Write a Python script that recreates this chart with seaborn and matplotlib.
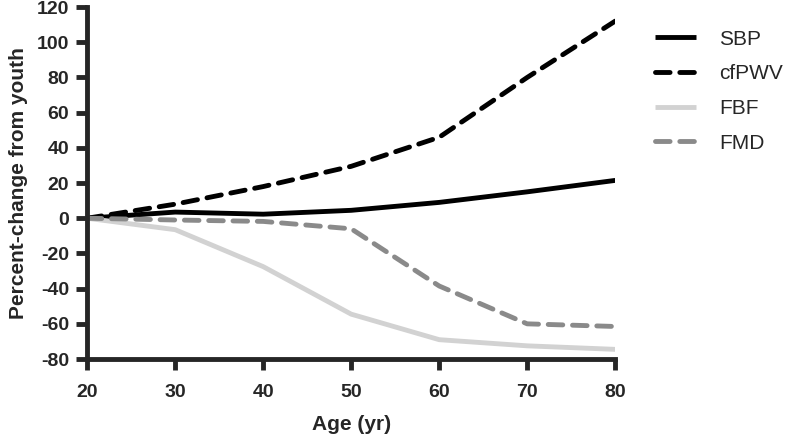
import pandas as pd
import matplotlib
matplotlib.use('Agg')
import matplotlib.pyplot as plt
import seaborn as sns

# Data
age = [20, 30, 40, 50, 60, 70, 80]
sbp = [0, 3.5, 2.3, 4.5, 9, 15, 21.5]
cfpwv = [0, 8, 18, 29.5, 46, 80, 112]
fbf = [0, -6.5, -27.5, -54.5, -69, -72.5, -74.5]
fmd = [0, -1, -1.8, -6, -38.5, -60, -61.5]

series_names = ['SBP', 'cfPWV', 'FBF', 'FMD']
legend_labels = ['SBP', 'cfPWV', 'FBF', 'FMD']
x_ticks = [20, 30, 40, 50, 60, 70, 80]
x_tick_labels = ['20', '30', '40', '50', '60', '70', '80']
y_ticks = [-80, -60, -40, -20, 0, 20, 40, 60, 80, 100, 120]
y_tick_labels = ['-80', '-60', '-40', '-20', '0', '20', '40', '60', '80', '100', '120']

df = pd.DataFrame({
    'Age': age * 4,
    'Change': sbp + cfpwv + fbf + fmd,
    'Series': [s for s in series_names for _ in age],
})

palette = {'SBP': 'black', 'cfPWV': 'black', 'FBF': '#d2d2d2', 'FMD': '#8a8a8a'}
dashes = {'SBP': '', 'cfPWV': (3.0, 2.0), 'FBF': '', 'FMD': (3.0, 2.0)}

sns.set_style('ticks')
plt.rcParams['font.family'] = ['Liberation Sans', 'DejaVu Sans']

fig = plt.figure(figsize=(8, 4.4), dpi=100)
ax = fig.add_axes([0.109, 0.184, 0.66, 0.80])

sns.lineplot(data=df, x='Age', y='Change', hue='Series', style='Series',
             hue_order=series_names, style_order=series_names,
             palette=palette, dashes=dashes, linewidth=3.5, ax=ax,
             legend='full')

for line in ax.get_lines():
    line.set_dash_capstyle('round')
    line.set_solid_capstyle('butt')

ax.set_xlim(20, 80)
ax.set_ylim(-80, 120)
ax.set_xticks(x_ticks, labels=x_tick_labels, fontsize=14, fontweight='bold')
ax.set_yticks(y_ticks, labels=y_tick_labels, fontsize=14, fontweight='bold')
ax.set_xlabel('Age (yr)', fontsize=15, fontweight='bold', labelpad=10)
ax.set_ylabel('Percent-change from youth', fontsize=15, fontweight='bold', labelpad=6)
ax.tick_params(axis='x', width=3.5, length=8, direction='out', pad=10)
ax.tick_params(axis='y', width=3.5, length=8, direction='out', pad=5)
for side in ['left', 'bottom']:
    ax.spines[side].set_linewidth(3.5)
sns.despine(ax=ax)

handles, labels = ax.get_legend_handles_labels()
ax.legend(handles, legend_labels, loc='upper left', bbox_to_anchor=(0.795, 0.975),
          bbox_transform=fig.transFigure, frameon=False, fontsize=15,
          handlelength=2.0, handletextpad=1.1, labelspacing=0.75)

fig.savefig('out.png', dpi=100)
